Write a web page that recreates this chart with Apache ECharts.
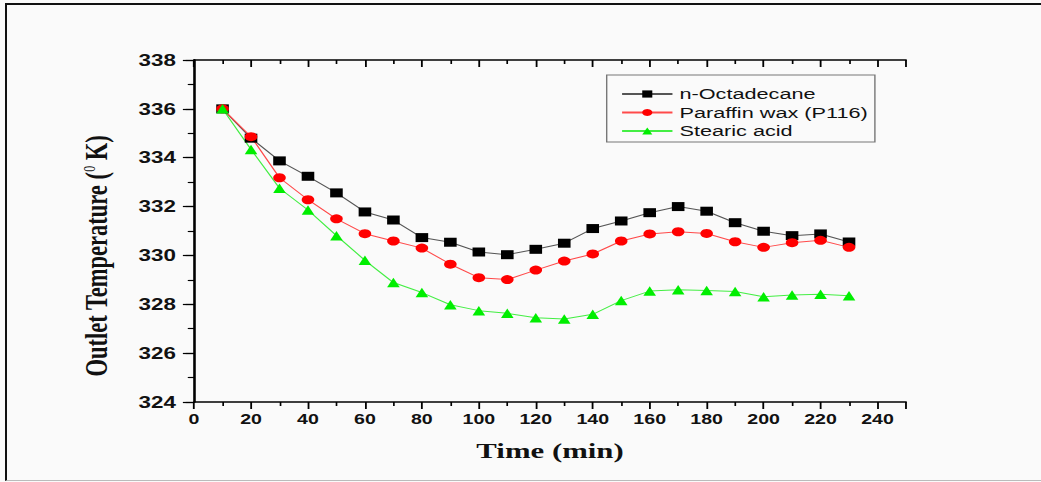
<!DOCTYPE html>
<html>
<head>
<meta charset="utf-8">
<script src="https://cdn.jsdelivr.net/npm/echarts@6/dist/echarts.min.js"></script>
<style>
  html, body { margin: 0; padding: 0; background: #fafafa; width: 1041px; height: 482px; overflow: hidden; }
  #frame {
    position: absolute; left: 5px; top: 3px; width: 1036px; height: 475px;
    border-top: 2px solid #111; border-left: 2px solid #111; border-bottom: 1px solid #bbb;
  }
  /* the figure is laid out on a narrower canvas and widened horizontally */
  #chart {
    position: absolute; left: 0; top: 0; width: 744px; height: 482px;
    transform: scaleX(1.3992); transform-origin: 0 0;
  }
</style>
</head>
<body>
<div id="frame"></div>
<div id="chart"></div>
<script>
// Time axis (min)
const timeMin = [10, 20, 30, 40, 50, 60, 70, 80, 90, 100, 110, 120,
                 130, 140, 150, 160, 170, 180, 190, 200, 210, 220, 230];

// Outlet temperature (K) for each phase change material
const octadecane = [336.0, 334.8, 333.87, 333.24, 332.56, 331.78, 331.45, 330.73, 330.54, 330.14, 330.03, 330.25,
                    330.5, 331.1, 331.41, 331.75, 332.0, 331.81, 331.34, 330.99, 330.81, 330.88, 330.55];
const paraffin   = [336.0, 334.86, 333.18, 332.28, 331.5, 330.89, 330.59, 330.3, 329.64, 329.09, 329.01, 329.4,
                    329.77, 330.06, 330.59, 330.88, 330.97, 330.9, 330.56, 330.33, 330.52, 330.62, 330.33];
const stearic    = [336.0, 334.34, 332.75, 331.86, 330.81, 329.8, 328.89, 328.48, 327.98, 327.74, 327.63, 327.45,
                    327.4, 327.59, 328.15, 328.54, 328.59, 328.56, 328.52, 328.31, 328.38, 328.41, 328.35];

const seriesNames = ['n-Octadecane', 'Paraffin wax (P116)', 'Stearic acid'];

const pairs = (ys) => timeMin.map((t, i) => [t, ys[i]]);

const sans = 'Liberation Sans, Arial, sans-serif';
const serif = 'Liberation Serif, Times New Roman, serif';

const chart = echarts.init(document.getElementById('chart'), null, { renderer: 'svg', width: 744, height: 482 });

const axisLine = { show: true, lineStyle: { color: '#000', width: 1.5 } };

chart.setOption({
  animation: false,
  backgroundColor: 'transparent',
  grid: { left: 138.7, right: 96.5, top: 60, bottom: 80 },
  legend: {
    orient: 'vertical',
    left: 433.6, top: 75,
    padding: [11, 5, 3, 10],
    itemGap: 2.5,
    itemWidth: 36, itemHeight: 9,
    borderColor: '#777', borderWidth: 1,
    textStyle: { fontFamily: sans, fontSize: 15.5, color: '#111' },
    data: seriesNames
  },
  xAxis: [{
    type: 'value', min: 0, max: 250, interval: 20,
    name: 'Time (min)', nameLocation: 'middle', nameGap: 38,
    nameTextStyle: { fontFamily: serif, fontWeight: 'bold', fontSize: 22, color: '#111' },
    axisLine,
    axisTick: { show: true, inside: false, length: 7, lineStyle: { color: '#000', width: 1.3 } },
    minorTick: { show: true, splitNumber: 2, length: 4, lineStyle: { color: '#000', width: 1.2 } },
    axisLabel: { fontFamily: sans, fontWeight: 'bold', fontSize: 14, color: '#111', margin: 10, showMaxLabel: false },
    splitLine: { show: false }
  }, {
    type: 'value', position: 'top', min: 0, max: 250, interval: 20,
    axisLine,
    axisTick: { show: true, inside: true, length: 7, lineStyle: { color: '#000', width: 1.3 } },
    minorTick: { show: true, splitNumber: 2, length: 4, lineStyle: { color: '#000', width: 1.2 } },
    axisLabel: { show: false },
    splitLine: { show: false }
  }],
  yAxis: [{
    type: 'value', min: 324, max: 338, interval: 2,
    name: '{t|Outlet Temperature (}{s|0}{t| K)}',
    nameLocation: 'middle', nameGap: 58,
    nameTextStyle: {
      padding: [0, 50, 0, 0],
      rich: {
        t: { fontFamily: serif, fontWeight: 'bold', fontSize: 22.5, color: '#111' },
        s: { fontFamily: serif, fontSize: 12, color: '#111', verticalAlign: 'top', lineHeight: 12 }
      }
    },
    axisLine,
    axisTick: { show: true, inside: false, length: 8, lineStyle: { color: '#000', width: 1.2 } },
    minorTick: { show: true, splitNumber: 2, length: 4.5, lineStyle: { color: '#000', width: 1.1 } },
    axisLabel: { fontFamily: sans, fontWeight: 'bold', fontSize: 16, color: '#111', margin: 13 },
    splitLine: { show: false }
  }, {
    type: 'value', position: 'right', min: 324, max: 338, interval: 2,
    axisLine,
    axisTick: { show: true, inside: true, length: 6, lineStyle: { color: '#000', width: 1.2 } },
    minorTick: { show: true, splitNumber: 2, length: 4, lineStyle: { color: '#000', width: 1.1 } },
    axisLabel: { show: false },
    splitLine: { show: false }
  }],
  series: [{
    name: seriesNames[0], type: 'line', data: pairs(octadecane),
    symbol: 'rect', symbolSize: 9,
    itemStyle: { color: '#000' },
    lineStyle: { color: '#555', width: 1 },
    emphasis: { disabled: true }
  }, {
    name: seriesNames[1], type: 'line', data: pairs(paraffin),
    symbol: 'circle', symbolSize: 9,
    itemStyle: { color: '#ff0000' },
    lineStyle: { color: '#ff4a4a', width: 1 },
    emphasis: { disabled: true }
  }, {
    name: seriesNames[2], type: 'line', data: pairs(stearic),
    symbol: 'triangle', symbolSize: [9, 9.5],
    itemStyle: { color: '#00ee00' },
    lineStyle: { color: '#44ee44', width: 1 },
    emphasis: { disabled: true }
  }]
});
</script>
</body>
</html>
